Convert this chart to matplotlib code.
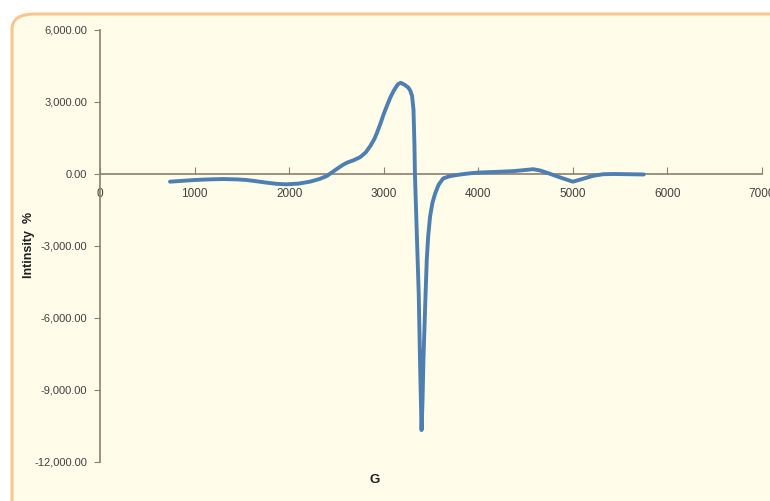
import matplotlib.pyplot as plt
from matplotlib.patches import FancyBboxPatch
from matplotlib.ticker import FuncFormatter

# field (G) and signal intensity
field = [740, 850, 1000, 1150, 1300, 1450, 1550, 1650, 1760, 1870, 1970,
         2100, 2220, 2320, 2400, 2450, 2500, 2560, 2610, 2680, 2750, 2810,
         2860, 2900, 2930, 2970, 3000, 3040, 3070, 3110, 3150, 3180, 3220,
         3260, 3280, 3300, 3315, 3325, 3330, 3350, 3370, 3385, 3400, 3410,
         3420, 3440, 3455, 3470, 3490, 3515, 3545, 3580, 3630, 3700, 3775,
         3850, 3915, 4000, 4200, 4370, 4480, 4580, 4650, 4750, 4870, 5000,
         5080, 5220, 5320, 5430, 5600, 5750]
intensity = [-320, -290, -250, -225, -210, -225, -250, -300, -360, -410,
             -430, -400, -320, -210, -80, 60, 200, 360, 470, 570, 700, 900,
             1180, 1450, 1730, 2150, 2500, 2900, 3190, 3500, 3740, 3800,
             3720, 3600, 3480, 3250, 2670, 1200, 0, -2500, -4960, -8000,
             -10670, -9500, -7750, -5300, -3600, -2600, -1780, -1200, -800,
             -450, -180, -90, -40, 0, 30, 60, 90, 120, 160, 200, 150, 20,
             -150, -320, -230, -70, -10, 0, -10, -20]

x_ticks = [0, 1000, 2000, 3000, 4000, 5000, 6000, 7000]
y_ticks = [6000, 3000, 0, -3000, -6000, -9000, -12000]

bg = '#fffde9'
axis_col = '#8c8070'
text_col = '#404040'
font = ['Liberation Sans Narrow', 'Liberation Sans', 'DejaVu Sans']

fig = plt.figure(figsize=(7.7, 5.01), dpi=100)
fig.patch.set_facecolor('white')

# rounded chart frame running off the right and bottom edges
frame = FancyBboxPatch((12 / 770, -0.2), 1.2, (501 - 12) / 501 + 0.2 - 0.004,
                       boxstyle='round,pad=0,rounding_size=0.03',
                       transform=fig.transFigure, facecolor=bg,
                       edgecolor='#f8c690', linewidth=2.2, zorder=-5)
fig.patches.append(frame)

ax = fig.add_axes([100 / 770, (501 - 462) / 501, 662 / 770, 432 / 501])
ax.set_facecolor('none')
ax.set_zorder(2)

ax.plot(field, intensity, color='#4e7fb2', linewidth=2.8,
        solid_joinstyle='round', solid_capstyle='round', zorder=3)

ax.set_xlim(0, 7000)
ax.set_ylim(-12000, 6000)
ax.set_xticks(x_ticks)
ax.set_yticks(y_ticks)
ax.yaxis.set_major_formatter(FuncFormatter(lambda v, p: f'{v:,.2f}'))

for side in ['top', 'right']:
    ax.spines[side].set_visible(False)
ax.spines['bottom'].set_position(('data', 0))
ax.spines['bottom'].set_color(axis_col)
ax.spines['left'].set_color(axis_col)
ax.spines['bottom'].set_linewidth(1.2)
ax.spines['left'].set_linewidth(1.2)

ax.tick_params(axis='x', direction='in', length=5, color=axis_col, pad=10,
               labelsize=8.5, labelcolor=text_col)
ax.tick_params(axis='y', direction='out', length=4, color=axis_col, pad=5,
               labelsize=8, labelcolor=text_col)
for lab in ax.get_xticklabels() + ax.get_yticklabels():
    lab.set_family(font)

fig.text(29 / 770, 1 - 245 / 501, 'Intinsity  %', rotation=90, ha='center',
         va='center', fontsize=9, fontweight='bold', color='#202020',
         family=font)
fig.text(375 / 770, 1 - 480 / 501, 'G', ha='center', va='center',
         fontsize=9.5, fontweight='bold', color='#202020', family=font)

fig.savefig('out.png', dpi=100, facecolor=fig.get_facecolor())
